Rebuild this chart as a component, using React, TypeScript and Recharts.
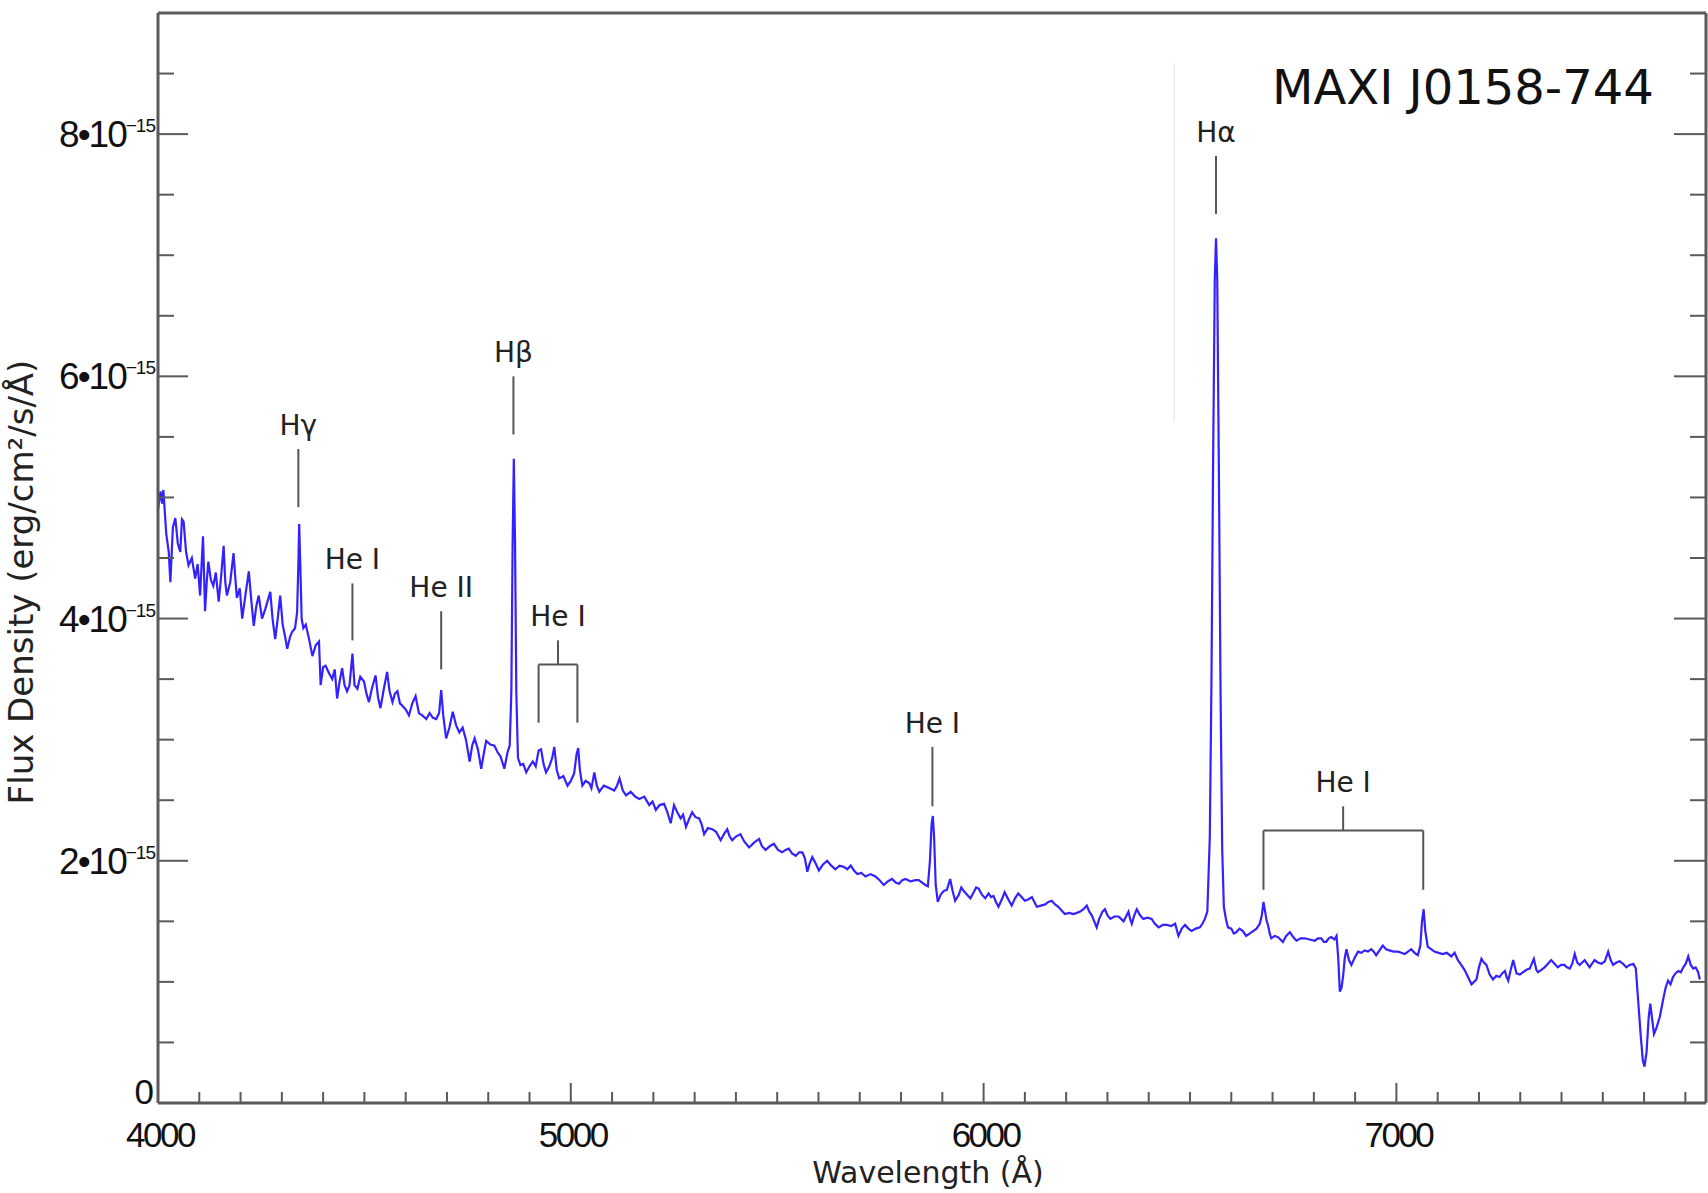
import { LineChart, Line, XAxis, YAxis, ReferenceLine } from "recharts";

// spectrum of MAXI J0158-744, flux in units of 1e-15 erg/cm2/s/A
const wavelength = [
  4000, 4006, 4010, 4013, 4020, 4026, 4030, 4036, 4042, 4048, 4054, 4058, 4062, 4068, 4074, 4082, 4090, 4096, 4102, 4109,
  4114, 4118, 4122, 4128, 4134, 4140, 4147, 4153, 4159, 4163, 4167, 4175, 4183, 4187, 4191, 4198, 4204, 4212, 4220, 4226,
  4232, 4238, 4244, 4252, 4260, 4266, 4272, 4278, 4284, 4290, 4296, 4302, 4308, 4313, 4320, 4325, 4332, 4337, 4340, 4342,
  4345, 4348, 4352, 4358, 4366, 4374, 4382, 4390, 4394, 4400, 4406, 4414, 4422, 4428, 4434, 4440, 4446, 4452, 4458, 4464,
  4471, 4476, 4483, 4490, 4499, 4505, 4511, 4518, 4527, 4533, 4539, 4546, 4555, 4561, 4568, 4574, 4580, 4586, 4592, 4600,
  4608, 4616, 4624, 4632, 4640, 4650, 4658, 4666, 4674, 4681, 4686, 4691, 4698, 4706, 4714, 4722, 4730, 4738, 4746, 4755,
  4761, 4767, 4775, 4783, 4790, 4795, 4805, 4815, 4822, 4830, 4839, 4847, 4852, 4856, 4859, 4862, 4865, 4868, 4872, 4878,
  4885, 4892, 4900, 4908, 4915, 4922, 4928, 4934, 4940, 4948, 4955, 4960, 4966, 4972, 4982, 4992, 5000, 5008, 5014, 5018,
  5022, 5028, 5036, 5045, 5050, 5057, 5063, 5069, 5080, 5093, 5105, 5112, 5118, 5126, 5134, 5145, 5156, 5166, 5178, 5190,
  5198, 5206, 5215, 5226, 5234, 5242, 5250, 5258, 5266, 5272, 5279, 5286, 5294, 5302, 5311, 5317, 5323, 5332, 5343, 5352,
  5363, 5371, 5379, 5385, 5391, 5400, 5411, 5420, 5432, 5444, 5456, 5463, 5472, 5482, 5492, 5502, 5512, 5520, 5528, 5536,
  5545, 5553, 5561, 5567, 5573, 5579, 5585, 5593, 5601, 5611, 5621, 5631, 5641, 5651, 5661, 5670, 5678, 5686, 5694, 5704,
  5714, 5726, 5738, 5748, 5758, 5768, 5778, 5787, 5795, 5803, 5811, 5823, 5835, 5843, 5851, 5859, 5865, 5870, 5874, 5877,
  5880, 5884, 5889, 5896, 5903, 5911, 5919, 5925, 5931, 5940, 5946, 5952, 5960, 5968, 5976, 5982, 5988, 5996, 6004, 6012,
  6018, 6024, 6030, 6036, 6044, 6051, 6060, 6068, 6076, 6084, 6092, 6100, 6108, 6117, 6123, 6129, 6139, 6149, 6157, 6165,
  6173, 6181, 6189, 6197, 6207, 6218, 6226, 6234, 6242, 6250, 6256, 6262, 6268, 6274, 6280, 6288, 6294, 6300, 6307, 6317,
  6327, 6333, 6339, 6345, 6351, 6355, 6359, 6365, 6371, 6379, 6387, 6397, 6407, 6415, 6424, 6434, 6444, 6454, 6464, 6468,
  6472, 6480, 6488, 6496, 6504, 6514, 6524, 6530, 6536, 6542, 6548, 6552, 6556, 6560, 6563, 6566, 6570, 6574, 6578, 6582,
  6587, 6592, 6600, 6606, 6612, 6620, 6628, 6636, 6645, 6653, 6661, 6669, 6674, 6678, 6682, 6686, 6689, 6693, 6697, 6705,
  6713, 6719, 6725, 6733, 6742, 6750, 6758, 6768, 6778, 6790, 6802, 6810, 6818, 6824, 6830, 6836, 6842, 6850, 6855, 6859,
  6863, 6867, 6871, 6875, 6879, 6885, 6891, 6899, 6907, 6915, 6923, 6931, 6939, 6945, 6951, 6959, 6967, 6975, 6983, 6993,
  7004, 7012, 7020, 7028, 7036, 7044, 7052, 7058, 7062, 7066, 7070, 7076, 7084, 7092, 7102, 7112, 7122, 7133, 7141, 7149,
  7157, 7165, 7172, 7182, 7188, 7194, 7200, 7206, 7212, 7218, 7226, 7234, 7242, 7250, 7256, 7263, 7267, 7271, 7277, 7283,
  7291, 7299, 7307, 7315, 7323, 7333, 7339, 7343, 7351, 7359, 7367, 7375, 7383, 7391, 7399, 7407, 7413, 7420, 7426, 7432,
  7438, 7444, 7450, 7456, 7462, 7468, 7474, 7480, 7488, 7497, 7505, 7513, 7519, 7525, 7533, 7541, 7549, 7557, 7565, 7574,
  7580, 7586, 7592, 7597, 7601, 7606, 7611, 7615, 7620, 7624, 7630, 7638, 7646, 7652, 7658, 7664, 7670, 7676, 7683, 7689,
  7695, 7701, 7707, 7713, 7719, 7725, 7731, 7735,
];

const flux = [
  4.9, 5.05, 4.95, 5.06, 4.7, 4.55, 4.3, 4.75, 4.83, 4.62, 4.55, 4.82, 4.8, 4.55, 4.44, 4.5, 4.33, 4.45, 4.19, 4.68,
  4.06, 4.3, 4.47, 4.32, 4.27, 4.38, 4.14, 4.35, 4.6, 4.3, 4.19, 4.3, 4.54, 4.35, 4.17, 4.25, 4.0, 4.2, 4.39, 4.15,
  3.94, 4.1, 4.19, 4.0, 4.08, 4.15, 4.22, 3.98, 3.83, 4.0, 4.19, 3.95, 3.85, 3.75, 3.85, 3.89, 3.92, 4.05, 4.45, 4.78,
  4.4, 4.0, 3.92, 3.95, 3.83, 3.69, 3.78, 3.81, 3.45, 3.6, 3.61, 3.55, 3.5, 3.58, 3.34, 3.48, 3.59, 3.45, 3.4, 3.45,
  3.71, 3.45, 3.42, 3.52, 3.48, 3.38, 3.31, 3.42, 3.53, 3.35, 3.26, 3.4, 3.56, 3.4, 3.31, 3.38, 3.4, 3.3, 3.28, 3.25,
  3.2, 3.3, 3.36, 3.22, 3.2, 3.17, 3.22, 3.18, 3.17, 3.22, 3.41, 3.2, 3.01, 3.1, 3.23, 3.12, 3.06, 3.1, 3.0, 2.82,
  2.95, 3.01, 2.92, 2.76, 2.9, 2.99, 2.96, 2.95, 2.9, 2.86, 2.76, 2.9, 2.95, 3.4, 4.6, 5.32, 4.6, 3.4, 2.85, 2.79,
  2.8, 2.73, 2.78, 2.82, 2.78, 2.91, 2.92, 2.8, 2.73, 2.78, 2.85, 2.94, 2.75, 2.68, 2.7, 2.62, 2.66, 2.72, 2.88, 2.93,
  2.75, 2.62, 2.66, 2.64, 2.6, 2.73, 2.62, 2.57, 2.62, 2.6, 2.58, 2.62, 2.68, 2.58, 2.54, 2.57, 2.53, 2.51, 2.53, 2.46,
  2.49, 2.42, 2.46, 2.47, 2.4, 2.31, 2.46, 2.4, 2.35, 2.38, 2.28, 2.34, 2.4, 2.36, 2.35, 2.3, 2.22, 2.27, 2.26, 2.24,
  2.17, 2.22, 2.26, 2.2, 2.17, 2.2, 2.22, 2.16, 2.11, 2.15, 2.18, 2.12, 2.09, 2.12, 2.14, 2.09, 2.07, 2.09, 2.1, 2.06,
  2.04, 2.07, 2.07, 2.02, 1.91, 1.98, 2.03, 1.98, 1.92, 1.97, 2.0, 1.96, 1.93, 1.96, 1.95, 1.93, 1.96, 1.92, 1.89, 1.9,
  1.87, 1.89, 1.87, 1.84, 1.8, 1.83, 1.85, 1.82, 1.81, 1.84, 1.85, 1.83, 1.84, 1.84, 1.82, 1.8, 1.79, 2.0, 2.3, 2.37,
  2.2, 1.8, 1.66, 1.72, 1.75, 1.76, 1.85, 1.75, 1.67, 1.72, 1.78, 1.75, 1.72, 1.69, 1.74, 1.78, 1.77, 1.72, 1.69, 1.73,
  1.7, 1.71, 1.66, 1.62, 1.68, 1.74, 1.68, 1.63, 1.69, 1.73, 1.7, 1.67, 1.68, 1.7, 1.66, 1.62, 1.63, 1.64, 1.66, 1.67,
  1.64, 1.62, 1.59, 1.56, 1.57, 1.56, 1.57, 1.58, 1.6, 1.63, 1.58, 1.55, 1.5, 1.45, 1.52, 1.58, 1.6, 1.55, 1.52, 1.54,
  1.54, 1.52, 1.5, 1.54, 1.58, 1.52, 1.48, 1.55, 1.6, 1.55, 1.52, 1.53, 1.52, 1.48, 1.45, 1.47, 1.47, 1.46, 1.48, 1.43,
  1.38, 1.44, 1.47, 1.44, 1.42, 1.44, 1.45, 1.48, 1.52, 1.58, 2.2, 3.5, 5.3, 6.8, 7.14, 6.8, 5.2, 3.4, 2.1, 1.62,
  1.52, 1.45, 1.44, 1.4, 1.41, 1.44, 1.42, 1.38, 1.4, 1.42, 1.44, 1.48, 1.55, 1.66, 1.58, 1.5, 1.47, 1.4, 1.36, 1.38,
  1.37, 1.35, 1.33, 1.38, 1.41, 1.37, 1.34, 1.36, 1.36, 1.35, 1.34, 1.36, 1.36, 1.33, 1.33, 1.36, 1.37, 1.35, 1.38, 1.2,
  0.92, 0.95, 1.05, 1.2, 1.27, 1.18, 1.14, 1.2, 1.25, 1.24, 1.26, 1.25, 1.27, 1.25, 1.22, 1.26, 1.3, 1.27, 1.26, 1.25,
  1.25, 1.24, 1.23, 1.25, 1.27, 1.24, 1.22, 1.3, 1.5, 1.6, 1.42, 1.29, 1.27, 1.25, 1.24, 1.23, 1.24, 1.21, 1.24, 1.18,
  1.14, 1.1, 1.05, 0.98, 1.0, 1.02, 1.12, 1.19, 1.16, 1.14, 1.06, 1.02, 1.05, 1.04, 1.07, 1.09, 1.04, 1.01, 1.1, 1.18,
  1.07, 1.06, 1.08, 1.1, 1.11, 1.19, 1.1, 1.08, 1.1, 1.12, 1.15, 1.18, 1.15, 1.12, 1.14, 1.14, 1.12, 1.11, 1.15, 1.23,
  1.16, 1.14, 1.16, 1.18, 1.15, 1.12, 1.15, 1.18, 1.16, 1.15, 1.17, 1.25, 1.18, 1.14, 1.16, 1.17, 1.15, 1.12, 1.14, 1.15,
  1.11, 0.83, 0.55, 0.35, 0.3, 0.42, 0.7, 0.82, 0.68, 0.57, 0.62, 0.71, 0.85, 0.95, 1.01, 0.98, 1.04, 1.07, 1.09, 1.08,
  1.12, 1.15, 1.21, 1.14, 1.11, 1.12, 1.08, 1.02,
];

const xTicks = [
  4000, 4100, 4200, 4300, 4400, 4500, 4600, 4700, 4800, 4900, 5000, 5100, 5200, 5300, 5400, 5500, 5600, 5700, 5800,
  5900, 6000, 6100, 6200, 6300, 6400, 6500, 6600, 6700, 6800, 6900, 7000, 7100, 7200, 7300, 7400, 7500, 7600, 7700,
];
const yTicks = [0, 0.5, 1, 1.5, 2, 2.5, 3, 3.5, 4, 4.5, 5, 5.5, 6, 6.5, 7, 7.5, 8, 8.5];

// single line identifications: label, wavelength, marker top, marker bottom
const lineLabels = ["Hγ", "He I", "He II", "Hβ", "He I", "Hα"];
const lineWave = [4340, 4471, 4686, 4861, 5876, 6563];
const lineTop = [5.4, 4.29, 4.06, 6.0, 2.94, 7.82];
const lineBottom = [4.92, 3.82, 3.58, 5.52, 2.45, 7.34];

// bracketed He I pairs
const pairLabels = ["He I", "He I"];
const pairLeft = [4922, 6678];
const pairRight = [5016, 7065];
const pairStem = [4969, 6871];
const pairStemTop = [3.82, 2.45];
const pairBar = [3.62, 2.25];
const pairLegBottom = [3.14, 1.76];

const data = wavelength.map((w, i) => ({ w, f: flux[i] }));

const TICK_FONT = "Liberation Sans, Arial, sans-serif";
const TEXT_FONT = "DejaVu Sans, Verdana, sans-serif";
const AXIS = "#5a5a5a";
const MARK = "#555";

const BottomTick = ({ x, y, payload }: any) => {
  const major = payload.value % 1000 === 0;
  return (
    <g>
      <line x1={x} x2={x} y1={y} y2={y - (major ? 20 : 11)} stroke={AXIS} strokeWidth={2} />
      {major && (
        <text x={x + 2} y={y + 44} textAnchor="middle" fontFamily={TICK_FONT} fontSize={35} letterSpacing={-2.5} fill="#111">
          {payload.value}
        </text>
      )}
    </g>
  );
};

const TopTick = ({ x, y, payload }: any) => {
  const major = payload.value % 1000 === 0;
  return <line x1={x} x2={x} y1={y} y2={y + (major ? 20 : 11)} stroke={AXIS} strokeWidth={2} />;
};

const LeftTick = ({ x, y, payload }: any) => {
  const v = payload.value;
  const major = v % 2 === 0;
  return (
    <g>
      <line x1={x} x2={x + (major ? 30 : 16)} y1={y} y2={y} stroke={AXIS} strokeWidth={2} />
      {major && v === 0 && (
        <text x={x - 4} y={y + 1} textAnchor="end" fontFamily={TICK_FONT} fontSize={35} fill="#111">
          0
        </text>
      )}
      {major && v !== 0 && (
        <text x={x - 3} y={y + 13} textAnchor="end" fontFamily={TICK_FONT} fontSize={37} letterSpacing={-2} fill="#111">
          {`${v}•10`}
          <tspan dy={-15} fontSize={19} letterSpacing={-1}>
            −15
          </tspan>
        </text>
      )}
    </g>
  );
};

const RightTick = ({ x, y, payload }: any) => {
  const major = payload.value % 2 === 0;
  return <line x1={x} x2={x - (major ? 32 : 16)} y1={y} y2={y} stroke={AXIS} strokeWidth={2} />;
};

const XTitle = ({ viewBox }: any) => (
  <text
    x={viewBox.x + viewBox.width / 2 - 4}
    y={viewBox.y + 80}
    textAnchor="middle"
    fontFamily={TEXT_FONT}
    fontSize={30}
    fill="#222"
  >
    Wavelength (Å)
  </text>
);

const YTitle = ({ viewBox }: any) => {
  const cy = viewBox.y + viewBox.height / 2 + 24;
  return (
    <text
      x={33}
      y={cy}
      transform={`rotate(-90, 33, ${cy})`}
      textAnchor="middle"
      fontFamily={TEXT_FONT}
      fontSize={34}
      fill="#222"
    >
      Flux Density (erg/cm²/s/Å)
    </text>
  );
};

const labelStyle = { position: "top" as const, offset: 14, fill: "#222", fontSize: 28, fontFamily: TEXT_FONT };

export default function App() {
  return (
    <div style={{ position: "absolute", left: 0, top: 0, width: 1708, height: 1193, background: "#fff" }}>
      <LineChart width={1708} height={1193} data={data} margin={{ top: 0, right: 0, bottom: 0, left: 0 }}>
        <XAxis
          dataKey="w"
          type="number"
          domain={[4000, 7750]}
          ticks={xTicks}
          interval={0}
          allowDataOverflow
          height={90}
          tickSize={0}
          tickMargin={0}
          tick={<BottomTick />}
          axisLine={{ stroke: AXIS, strokeWidth: 3 }}
          label={<XTitle />}
        />
        <XAxis
          xAxisId="top"
          orientation="top"
          type="number"
          domain={[4000, 7750]}
          ticks={xTicks}
          interval={0}
          allowDataOverflow
          height={13}
          tickSize={0}
          tickMargin={0}
          tick={<TopTick />}
          axisLine={{ stroke: AXIS, strokeWidth: 3 }}
        />
        <YAxis
          type="number"
          domain={[0, 9]}
          ticks={yTicks}
          interval={0}
          allowDataOverflow
          width={158}
          tickSize={0}
          tickMargin={0}
          tick={<LeftTick />}
          axisLine={{ stroke: AXIS, strokeWidth: 3 }}
          label={<YTitle />}
        />
        <YAxis
          yAxisId="right"
          orientation="right"
          type="number"
          domain={[0, 9]}
          ticks={yTicks}
          interval={0}
          allowDataOverflow
          width={2}
          tickSize={0}
          tickMargin={0}
          tick={<RightTick />}
          axisLine={{ stroke: AXIS, strokeWidth: 3 }}
        />

        <ReferenceLine
          segment={[
            { x: 6462, y: 8.59 },
            { x: 6462, y: 5.62 },
          ]}
          stroke="#ececec"
          strokeWidth={1.5}
        />

        {lineLabels.map((name, i) => (
          <ReferenceLine
            key={`line-${i}`}
            segment={[
              { x: lineWave[i], y: lineTop[i] },
              { x: lineWave[i], y: lineBottom[i] },
            ]}
            stroke={MARK}
            strokeWidth={2}
            label={{ ...labelStyle, value: name }}
          />
        ))}

        {pairLabels.map((name, i) => (
          <g key={`pair-${i}`}>
            <ReferenceLine
              segment={[
                { x: pairStem[i], y: pairStemTop[i] },
                { x: pairStem[i], y: pairBar[i] },
              ]}
              stroke={MARK}
              strokeWidth={2}
              label={{ ...labelStyle, value: name }}
            />
            <ReferenceLine
              segment={[
                { x: pairLeft[i], y: pairBar[i] },
                { x: pairRight[i], y: pairBar[i] },
              ]}
              stroke={MARK}
              strokeWidth={2}
            />
            <ReferenceLine
              segment={[
                { x: pairLeft[i], y: pairBar[i] },
                { x: pairLeft[i], y: pairLegBottom[i] },
              ]}
              stroke={MARK}
              strokeWidth={2}
            />
            <ReferenceLine
              segment={[
                { x: pairRight[i], y: pairBar[i] },
                { x: pairRight[i], y: pairLegBottom[i] },
              ]}
              stroke={MARK}
              strokeWidth={2}
            />
          </g>
        ))}

        <Line
          type="linear"
          dataKey="f"
          stroke="#3322ff"
          strokeWidth={2.2}
          dot={false}
          isAnimationActive={false}
        />
      </LineChart>
      <div
        style={{
          position: "absolute",
          left: 1272,
          top: 63,
          fontFamily: TEXT_FONT,
          fontSize: 48,
          lineHeight: "48px",
          color: "#111",
          whiteSpace: "nowrap",
        }}
      >
        MAXI J0158-744
      </div>
    </div>
  );
}
